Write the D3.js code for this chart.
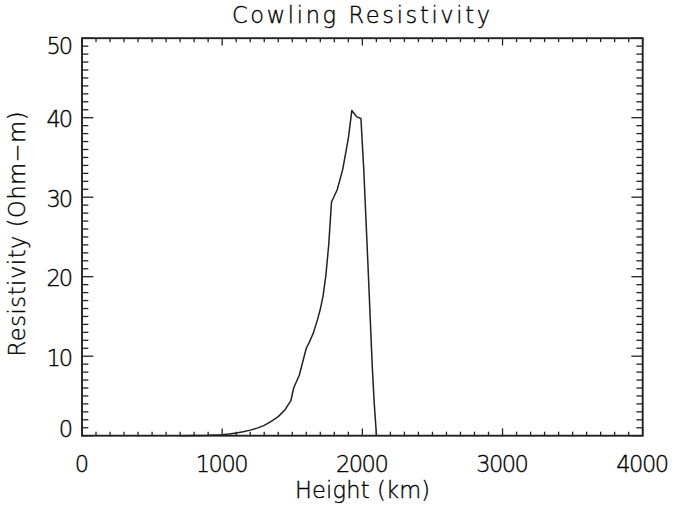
<!DOCTYPE html>
<html><head><meta charset="utf-8">
<script src="https://cdn.jsdelivr.net/npm/d3@7"></script>
<style>body{margin:0;background:#fff}svg{display:block}text{font-family:"DejaVu Sans",Arial,sans-serif;font-weight:200;fill:#000;stroke:#000;stroke-width:0.35px}</style>
</head><body>
<svg id="c" width="673" height="508"></svg>
<script>
const heights = [700, 800, 900, 1000, 1050, 1100, 1150, 1200, 1250, 1300, 1350, 1400, 1450, 1490, 1510, 1550, 1600, 1620, 1650, 1680, 1700, 1720, 1740, 1760, 1780, 1820, 1860, 1900, 1925, 1960, 1990, 2010, 2040, 2070, 2085, 2101];
const resistivity = [0.0, 0.02, 0.05, 0.12, 0.2, 0.35, 0.5, 0.7, 0.95, 1.3, 1.8, 2.4, 3.3, 4.4, 6.0, 7.6, 11.0, 11.7, 12.9, 14.6, 15.9, 17.6, 20.2, 24.0, 29.4, 30.9, 33.5, 37.4, 40.9, 40.1, 39.9, 33.5, 21.5, 9.0, 4.0, 0.0];
const xTicks = [0, 1000, 2000, 3000, 4000];
const yTicks = [0, 10, 20, 30, 40, 50];
const title = "Cowling Resistivity";
const xTitle = "Height (km)";
const yTitle = "Resistivity (Ohm\u2212m)";

const L = 82, R = 642.7, T = 38.2, B = 435.7;
const svg = d3.select("#c");
const x = d3.scaleLinear().domain([0, 4000]).range([L, R]);
const y = d3.scaleLinear().domain([0, 50]).range([B, T]);
const col = "#222";
const g = svg.append("g");

const xMinor = d3.range(0, 4001, 100);
const yMinor = d3.range(0, 51, 1);
xMinor.forEach(v => {
  const len = (v % 1000 === 0) ? 7.3 : 4;
  g.append("line").attr("x1", x(v)).attr("x2", x(v)).attr("y1", B).attr("y2", B - len).attr("stroke", col).attr("stroke-width", 1.3);
  g.append("line").attr("x1", x(v)).attr("x2", x(v)).attr("y1", T).attr("y2", T + len).attr("stroke", col).attr("stroke-width", 1.3);
});
yMinor.forEach(v => {
  const len = (v % 10 === 0) ? 11.3 : 6.3;
  g.append("line").attr("y1", y(v)).attr("y2", y(v)).attr("x1", L).attr("x2", L + len).attr("stroke", col).attr("stroke-width", 1.3);
  g.append("line").attr("y1", y(v)).attr("y2", y(v)).attr("x1", R).attr("x2", R - len).attr("stroke", col).attr("stroke-width", 1.3);
});
g.append("rect").attr("x", L).attr("y", T).attr("width", R - L).attr("height", B - T)
  .attr("fill", "none").attr("stroke", col).attr("stroke-width", 1.9);

const fs = 22.5;
xTicks.forEach(v => {
  g.append("text").attr("x", x(v)).attr("y", 472).attr("text-anchor", "middle")
    .attr("font-size", fs).attr("textLength", String(v).length * 13.2).attr("lengthAdjust", "spacing").text(v);
});
yTicks.forEach(v => {
  let cy = y(v);
  cy = Math.max(T + 8, Math.min(B - 7, cy + 1.3));
  g.append("text").attr("x", 73).attr("y", cy + 8.2).attr("text-anchor", "end")
    .attr("font-size", fs).attr("textLength", String(v).length * 13.2).attr("lengthAdjust", "spacing").text(v);
});

g.append("text").attr("x", 361).attr("y", 22.5).attr("text-anchor", "middle")
  .attr("font-size", fs).attr("textLength", 258).attr("lengthAdjust", "spacing").text(title);
g.append("text").attr("x", 362.5).attr("y", 498.3).attr("text-anchor", "middle")
  .attr("font-size", fs).attr("textLength", 135).attr("lengthAdjust", "spacing").text(xTitle);
g.append("text").attr("transform", "translate(25,234) rotate(-90)").attr("text-anchor", "middle")
  .attr("font-size", fs).attr("textLength", 245).attr("lengthAdjust", "spacing").text(yTitle);

const line = d3.line().x((d, i) => x(heights[i])).y(d => y(d)).curve(d3.curveLinear);
svg.append("path").datum(resistivity).attr("d", line).attr("fill", "none")
  .attr("stroke", col).attr("stroke-width", 1.5).attr("stroke-linejoin", "round");
</script>
</body></html>
